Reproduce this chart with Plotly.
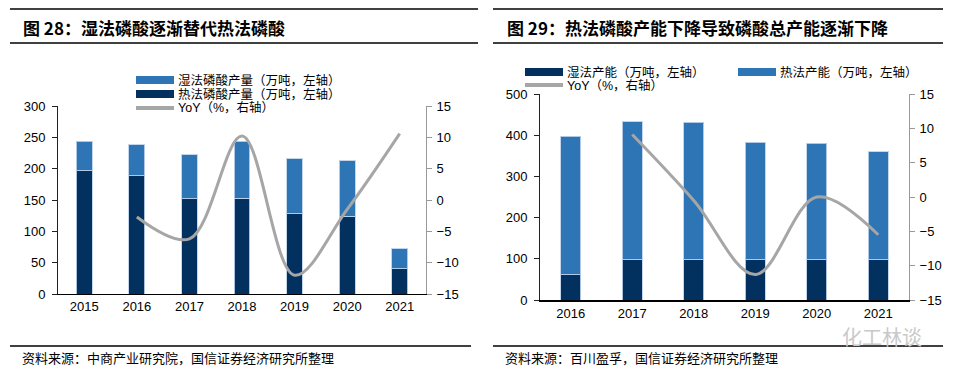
import plotly.graph_objects as go

# ---------- data ----------
years_left = ["2015", "2016", "2017", "2018", "2019", "2020", "2021"]
left_hot = [197, 189, 152, 153, 128, 124, 40]      # 热法磷酸产量 (dark)
left_wet = [47, 49, 70, 91, 88, 89, 32]            # 湿法磷酸产量 (light, stacked on top)
left_yoy = [None, -2.7, -6.2, 10.2, -12.0, -1.5, 10.6]

years_right = ["2016", "2017", "2018", "2019", "2020", "2021"]
right_wet = [61, 98, 98, 98, 98, 98]               # 湿法产能 (dark)
right_hot = [337, 335, 333, 285, 283, 262]         # 热法产能 (light, stacked on top)
right_yoy = [None, 9.1, -0.5, -11.3, 0.0, -5.5]

title_left = "图 28：湿法磷酸逐渐替代热法磷酸"
title_right = "图 29：热法磷酸产能下降导致磷酸总产能逐渐下降"
source_left = "资料来源：中商产业研究院，国信证券经济研究所整理"
source_right = "资料来源：百川盈孚，国信证券经济研究所整理"

# ---------- style ----------
W, H = 961, 372
DARK = "#03315F"
LIGHT = "#2E75B6"
GREY = "#A6A6A6"
EDGE = "rgba(190,210,235,0.9)"
FONT = "Liberation Sans, Arial, Noto Sans CJK SC, sans-serif"
CJK = "Noto Sans CJK SC, sans-serif"


def px(x):
    return x / W


def py(y):
    return 1 - y / H


fig = go.Figure()

# left chart
fig.add_trace(go.Bar(x=years_left, y=left_hot, marker=dict(color=DARK, line=dict(color=EDGE, width=1)),
                     width=0.3, xaxis="x", yaxis="y", showlegend=False, name="热法磷酸产量（万吨，左轴）"))
fig.add_trace(go.Bar(x=years_left, y=left_wet, marker=dict(color=LIGHT, line=dict(color=EDGE, width=1)),
                     width=0.3, xaxis="x", yaxis="y", showlegend=False, name="湿法磷酸产量（万吨，左轴）"))
fig.add_trace(go.Scatter(x=years_left, y=left_yoy, mode="lines", line=dict(color=GREY, width=3, shape="spline", smoothing=1),
                         xaxis="x", yaxis="y2", showlegend=False, name="YoY（%，右轴）", connectgaps=False))

# right chart
fig.add_trace(go.Bar(x=years_right, y=right_wet, marker=dict(color=DARK, line=dict(color=EDGE, width=1)),
                     width=0.33, xaxis="x2", yaxis="y3", showlegend=False, name="湿法产能（万吨，左轴）"))
fig.add_trace(go.Bar(x=years_right, y=right_hot, marker=dict(color=LIGHT, line=dict(color=EDGE, width=1)),
                     width=0.33, xaxis="x2", yaxis="y3", showlegend=False, name="热法产能（万吨，左轴）"))
fig.add_trace(go.Scatter(x=years_right, y=right_yoy, mode="lines", line=dict(color=GREY, width=3, shape="spline", smoothing=1),
                         xaxis="x2", yaxis="y4", showlegend=False, name="YoY（%，右轴）"))

tickfont = dict(family=FONT, size=13, color="#000")
common_y = dict(showgrid=False, zeroline=False, showline=True, ticks="outside", ticklen=5,
                tickfont=tickfont, fixedrange=True, automargin=False)
common_x = dict(type="category", showline=True, linecolor="#000", ticks="", showgrid=False,
                tickfont=tickfont, automargin=False, fixedrange=True)

fig.update_layout(
    width=W, height=H, margin=dict(l=0, r=0, t=0, b=0, autoexpand=False),
    paper_bgcolor="white", plot_bgcolor="white", barmode="stack",
    xaxis=dict(domain=[px(58), px(426)], anchor="y", linewidth=1, **common_x),
    yaxis=dict(domain=[py(294), py(106)], anchor="x", range=[0, 300], dtick=50, linecolor="#222",
               tickcolor="#222", ticklabelstandoff=4, **common_y),
    yaxis2=dict(overlaying="y", side="right", anchor="x", range=[-15, 15], dtick=5, linecolor="#999",
                tickcolor="#999", ticklabelstandoff=2, **common_y),
    xaxis2=dict(domain=[px(540), px(909)], anchor="y3", linewidth=2, **common_x),
    yaxis3=dict(domain=[py(300), py(94)], anchor="x2", range=[0, 500], dtick=100, linecolor="#222",
                tickcolor="#222", ticklabelstandoff=4, **common_y),
    yaxis4=dict(overlaying="y3", side="right", anchor="x2", range=[-15, 15], dtick=5, linecolor="#999",
                tickcolor="#999", ticklabelstandoff=2, **common_y),
)

shapes = []
annotations = []

# header / footer rules
for (x0, x1) in [(10, 478), (493, 943)]:
    for y in (9, 43):
        shapes.append(dict(type="line", xref="paper", yref="paper", x0=px(x0), x1=px(x1), y0=py(y), y1=py(y),
                           line=dict(color="#000", width=1.3)))
for (x0, x1) in [(10, 471), (493, 943)]:
    shapes.append(dict(type="line", xref="paper", yref="paper", x0=px(x0), x1=px(x1), y0=py(346), y1=py(346),
                       line=dict(color="#000", width=1.3)))

# titles
annotations.append(dict(text="<b>" + title_left + "</b>", x=px(21), y=py(27), xref="paper", yref="paper",
                        xanchor="left", yanchor="middle", showarrow=False, font=dict(family=CJK, size=17, color="#000")))
annotations.append(dict(text="<b>" + title_right + "</b>", x=px(505), y=py(27), xref="paper", yref="paper",
                        xanchor="left", yanchor="middle", showarrow=False, font=dict(family=CJK, size=17, color="#000")))
# sources
annotations.append(dict(text=source_left, x=px(20), y=py(357), xref="paper", yref="paper",
                        xanchor="left", yanchor="middle", showarrow=False, font=dict(family=CJK, size=13, color="#000")))
annotations.append(dict(text=source_right, x=px(503), y=py(357), xref="paper", yref="paper",
                        xanchor="left", yanchor="middle", showarrow=False, font=dict(family=CJK, size=13, color="#000")))
# watermark
annotations.append(dict(text="化工林谈", x=px(840), y=py(336), xref="paper", yref="paper",
                        xanchor="left", yanchor="middle", showarrow=False, font=dict(family=CJK, size=20, color="#C9C9C9")))


def legend_item(x0, yc, color, kind, label):
    if kind == "bar":
        shapes.append(dict(type="rect", xref="paper", yref="paper", x0=px(x0), x1=px(x0 + 38),
                           y0=py(yc + 4), y1=py(yc - 4), line=dict(width=0), fillcolor=color))
    else:
        shapes.append(dict(type="line", xref="paper", yref="paper", x0=px(x0), x1=px(x0 + 38),
                           y0=py(yc), y1=py(yc), line=dict(color=color, width=4)))
    annotations.append(dict(text=label, x=px(x0 + 40), y=py(yc), xref="paper", yref="paper",
                            xanchor="left", yanchor="middle", showarrow=False,
                            font=dict(family=FONT, size=12.5, color="#000")))


legend_item(136, 80, LIGHT, "bar", "湿法磷酸产量（万吨，左轴）")
legend_item(136, 94, DARK, "bar", "热法磷酸产量（万吨，左轴）")
legend_item(136, 108, GREY, "line", "YoY（%，右轴）")

legend_item(525, 72, DARK, "bar", "湿法产能（万吨，左轴）")
legend_item(738, 72, LIGHT, "bar", "热法产能（万吨，左轴）")
legend_item(525, 85, GREY, "line", "YoY（%，右轴）")

fig.update_layout(shapes=shapes, annotations=annotations)

fig.write_html("out.html", config={"displayModeBar": False},
               post_script="document.body.style.margin='0';document.body.style.padding='0';"
                           "document.body.style.overflow='hidden';")
